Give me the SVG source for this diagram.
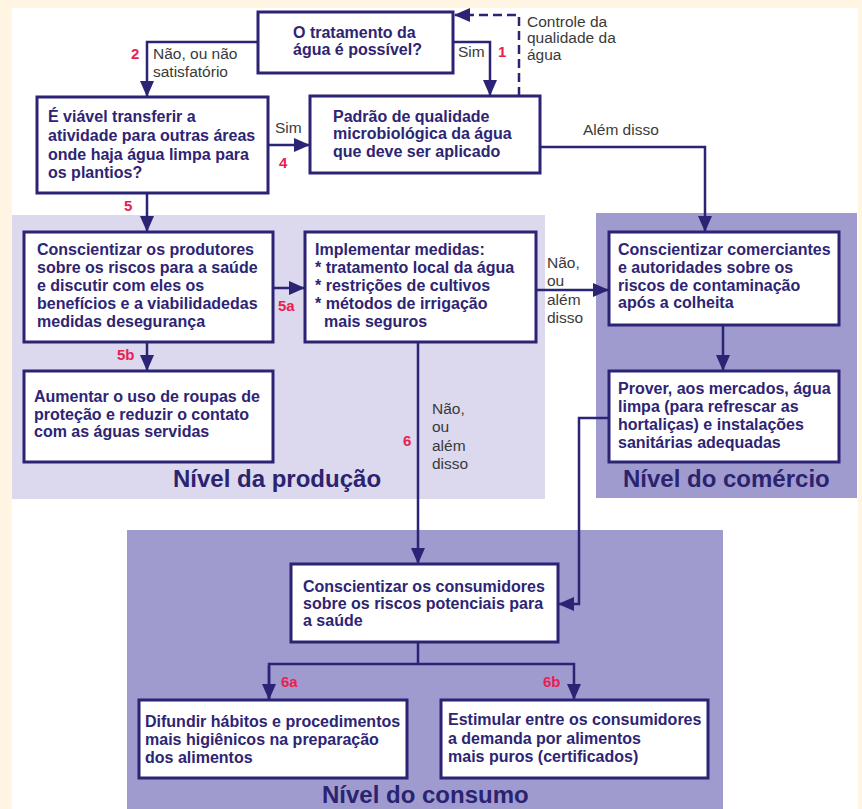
<svg xmlns="http://www.w3.org/2000/svg" width="862" height="809" viewBox="0 0 862 809">
<defs>
<style>
.box{fill:#ffffff;stroke:#2b2374;stroke-width:3}
.t{font-family:"Liberation Sans",Arial,sans-serif;font-weight:bold;font-size:16px;fill:#2e2474}
.l{font-family:"Liberation Sans",Arial,sans-serif;font-size:15.5px;fill:#3a3a3a}
.n{font-family:"Liberation Sans",Arial,sans-serif;font-weight:bold;font-size:15px;fill:#e8214f}
.h{font-family:"Liberation Sans",Arial,sans-serif;font-weight:bold;font-size:24px;fill:#2b2370}
.c{fill:none;stroke:#2b2374;stroke-width:2.5}
.d{stroke-dasharray:9 5}
</style>
<marker id="ah" markerUnits="userSpaceOnUse" markerWidth="16" markerHeight="14" refX="15" refY="7" orient="auto">
<path d="M0,0 L16,7 L0,14 z" fill="#2b2374"/>
</marker>
</defs>
<rect x="0" y="0" width="862" height="809" fill="#fff5e2"/>
<rect x="12" y="8" width="846" height="801" fill="#ffffff"/>
<g id="panels">
<rect x="12" y="215" width="533" height="284" fill="#dcd8ee"/>
<rect x="596" y="213" width="261" height="285" fill="#a09bcf"/>
<rect x="127" y="530" width="596" height="279" fill="#a09bcf"/>
<text class="h" x="173" y="487">Nível da produção</text>
<text class="h" x="623" y="487">Nível do comércio</text>
<text class="h" x="322" y="803">Nível do consumo</text>
</g>
<g id="connectors">
<polyline class="c" points="258,42 147,42 147,96" marker-end="url(#ah)"/>
<polyline class="c" points="453,42 490,42 490,95" marker-end="url(#ah)"/>
<polyline class="c d" points="519,96 519,15 455,15" marker-end="url(#ah)"/>
<line class="c" x1="268" y1="145" x2="309" y2="145" marker-end="url(#ah)"/>
<polyline class="c" points="540,147 705,147 705,231" marker-end="url(#ah)"/>
<line class="c" x1="147" y1="193" x2="147" y2="231" marker-end="url(#ah)"/>
<line class="c" x1="273" y1="288" x2="304" y2="288" marker-end="url(#ah)"/>
<line class="c" x1="147" y1="342" x2="147" y2="370" marker-end="url(#ah)"/>
<line class="c" x1="536" y1="290" x2="608" y2="290" marker-end="url(#ah)"/>
<line class="c" x1="723" y1="325" x2="723" y2="370" marker-end="url(#ah)"/>
<line class="c" x1="418" y1="342" x2="418" y2="563" marker-end="url(#ah)"/>
<polyline class="c" points="609,418 579,418 579,604 559,604" marker-end="url(#ah)"/>
<line class="c" x1="418" y1="642" x2="418" y2="664"/>
<polyline class="c" points="269,699 269,664 574,664 574,699" marker-end="url(#ah)"/>
<line class="c" x1="269" y1="666" x2="269" y2="699" marker-end="url(#ah)"/>
<text class="n" x="131" y="59">2</text>
<text class="l" x="153" y="59">Não, ou não</text>
<text class="l" x="153" y="77">satisfatório</text>
<text class="l" x="458" y="57">Sim</text>
<text class="n" x="498" y="57">1</text>
<text class="l" x="527" y="27">Controle da</text>
<text class="l" x="527" y="43">qualidade da</text>
<text class="l" x="527" y="60">água</text>
<text class="l" x="275" y="133">Sim</text>
<text class="n" x="279" y="168">4</text>
<text class="l" x="583" y="135">Além disso</text>
<text class="n" x="124" y="211">5</text>
<text class="n" x="278" y="311">5a</text>
<text class="n" x="117" y="360">5b</text>
<text class="l" x="547" y="268">Não,</text>
<text class="l" x="547" y="286">ou</text>
<text class="l" x="547" y="305">além</text>
<text class="l" x="547" y="323">disso</text>
<text class="n" x="403" y="446">6</text>
<text class="l" x="432" y="414">Não,</text>
<text class="l" x="432" y="432">ou</text>
<text class="l" x="432" y="451">além</text>
<text class="l" x="432" y="469">disso</text>
<text class="n" x="281" y="687">6a</text>
<text class="n" x="543" y="687">6b</text>
</g>
<g id="n1">
<rect class="box" x="258" y="12" width="195" height="61"/>
<text class="t" x="293" y="38">O tratamento da</text>
<text class="t" x="293" y="55">água é possível?</text>
</g>
<g id="n2">
<rect class="box" x="37" y="97" width="231" height="96"/>
<text class="t" x="48" y="122">É viável transferir a</text>
<text class="t" x="48" y="141">atividade para outras áreas</text>
<text class="t" x="48" y="160">onde haja água limpa para</text>
<text class="t" x="48" y="178">os plantios?</text>
</g>
<g id="n3">
<rect class="box" x="310" y="96" width="230" height="77"/>
<text class="t" x="333" y="122">Padrão de qualidade</text>
<text class="t" x="333" y="139">microbiológica da água</text>
<text class="t" x="333" y="157">que deve ser aplicado</text>
</g>
<g id="n4">
<rect class="box" x="24" y="232" width="249" height="110"/>
<text class="t" x="37" y="255">Conscientizar os produtores</text>
<text class="t" x="37" y="273">sobre os riscos para a saúde</text>
<text class="t" x="37" y="291">e discutir com eles os</text>
<text class="t" x="37" y="309">benefícios e a viabilidadedas</text>
<text class="t" x="37" y="327">medidas desegurança</text>
</g>
<g id="n5">
<rect class="box" x="305" y="232" width="231" height="110"/>
<text class="t" x="315" y="255">Implementar medidas:</text>
<text class="t" x="315" y="273">* tratamento local da água</text>
<text class="t" x="315" y="291">* restrições de cultivos</text>
<text class="t" x="315" y="309">* métodos de irrigação</text>
<text class="t" x="324" y="327">mais seguros</text>
</g>
<g id="n6">
<rect class="box" x="24" y="371" width="249" height="91"/>
<text class="t" x="34" y="402">Aumentar o uso de roupas de</text>
<text class="t" x="34" y="420">proteção e reduzir o contato</text>
<text class="t" x="34" y="437">com as águas servidas</text>
</g>
<g id="n7">
<rect class="box" x="609" y="232" width="230" height="93"/>
<text class="t" x="618" y="255">Conscientizar comerciantes</text>
<text class="t" x="618" y="273">e autoridades sobre os</text>
<text class="t" x="618" y="291">riscos de contaminação</text>
<text class="t" x="618" y="308">após a colheita</text>
</g>
<g id="n8">
<rect class="box" x="609" y="371" width="230" height="91"/>
<text class="t" x="618" y="394">Prover, aos mercados, água</text>
<text class="t" x="618" y="412">limpa (para refrescar as</text>
<text class="t" x="618" y="430">hortaliças) e instalações</text>
<text class="t" x="618" y="448">sanitárias adequadas</text>
</g>
<g id="n9">
<rect class="box" x="291" y="564" width="267" height="78"/>
<text class="t" x="303" y="592">Conscientizar os consumidores</text>
<text class="t" x="303" y="609">sobre os riscos potenciais para</text>
<text class="t" x="303" y="626">a saúde</text>
</g>
<g id="n10">
<rect class="box" x="139" y="700" width="268" height="78"/>
<text class="t" x="145" y="727">Difundir hábitos e procedimentos</text>
<text class="t" x="145" y="745">mais higiênicos na preparação</text>
<text class="t" x="145" y="763">dos alimentos</text>
</g>
<g id="n11">
<rect class="box" x="441" y="700" width="267" height="78"/>
<text class="t" x="448" y="725">Estimular entre os consumidores</text>
<text class="t" x="448" y="744">a demanda por alimentos</text>
<text class="t" x="448" y="762">mais puros (certificados)</text>
</g>
</svg>
